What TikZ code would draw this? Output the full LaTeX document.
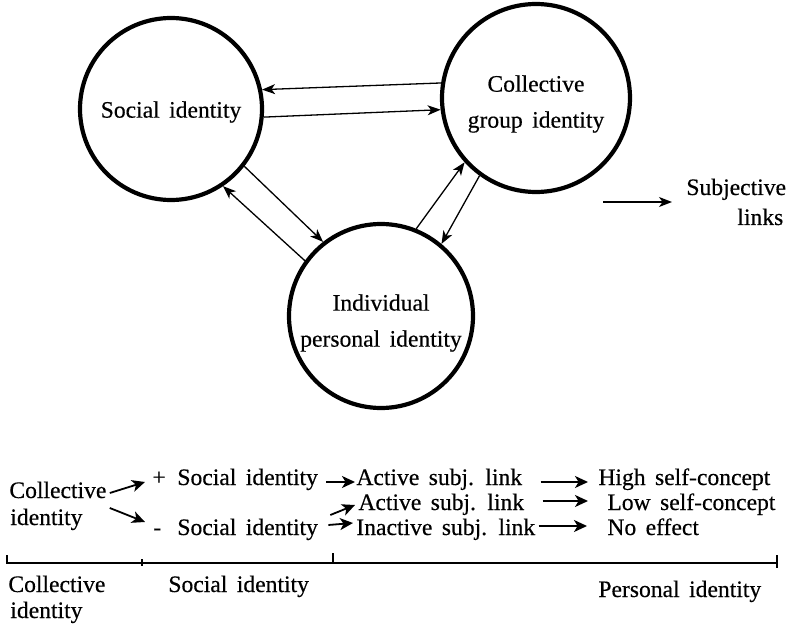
\documentclass[tikz,border=0pt]{standalone}
\usepackage{fontspec}
\setmainfont{Liberation Serif}[WordSpace=1.6, FakeBold=0.4]
\usetikzlibrary{arrows.meta}
\begin{document}
\begin{tikzpicture}[x=0.5pt,y=-0.5pt,
  txt/.style={inner sep=0pt, font=\fontsize{11.8}{18}\selectfont},
  idcircle/.style={circle, draw, line width=2.1pt, inner sep=0pt},
  link/.style={line width=0.65pt, -{Stealth[length=6.5pt,width=5pt,inset=1.8pt]}},
  barrow/.style={line width=0.9pt, -{Stealth[length=6.5pt,width=6pt,inset=1.8pt]}},
  axisline/.style={line width=0.9pt}]
\path[use as bounding box] (0,0) rectangle (788,626);

% circles
\node[idcircle, minimum size=91pt,
  label={[txt, align=center, yshift=-1.5pt]center:{Social identity}}] (soc) at (171,109) {};
\node[idcircle, minimum size=94pt,
  label={[txt, align=center, yshift=-3pt]center:{Collective\\group identity}}] (coll) at (536,98) {};
\node[idcircle, minimum size=92pt,
  label={[txt, align=center, yshift=-3.5pt]center:{Individual\\personal identity}}] (ind) at (381,316) {};

\draw[link] (coll.171) -- (soc.12);
\draw[link] (soc.-5) -- (coll.-173);
\draw[link] (soc.-38) -- (ind.128.6);
\draw[link] (ind.144) -- (soc.-56);
\draw[link] (ind.68) -- (coll.-138);
\draw[link] (coll.-126) -- (ind.50.5);

% legend
\coordinate (lg1) at (603,202);
\coordinate (lg2) at (672,202);
\draw[link] (lg1) -- (lg2);
\node[txt, anchor=base west] (subj) at (686,195) {Subjective};
\node[txt, anchor=base west] (links) at (737,225) {links};

% bottom scheme
\node[txt, anchor=base west] (colla) at (9,498) {Collective};
\node[txt, anchor=base west] (collb) at (10,525) {identity};
\node[txt, anchor=base west] (plus) at (152,485) {+};
\node[txt, anchor=base west] (soc1) at (177,485) {Social identity};
\node[txt, anchor=base west] (minus) at (153,535) {-};
\node[txt, anchor=base west] (soc2) at (177,535) {Social identity};
\node[txt, anchor=base west] (act1) at (356,485) {Active subj. link};
\node[txt, anchor=base west] (act2) at (358,510) {Active subj. link};
\node[txt, anchor=base west] (inact) at (356,535) {Inactive subj. link};
\node[txt, anchor=base west] (high) at (598,485) {High self-concept};
\node[txt, anchor=base west] (low) at (607,510) {Low self-concept};
\node[txt, anchor=base west] (noeff) at (607,535) {No effect};

\draw[barrow] ([shift={(3,-5)}]colla.base east) -- ([shift={(-7,-3)}]plus.base west);
\draw[barrow] ([shift={(3,10)}]colla.base east) -- ([shift={(-8,-13)}]minus.base west);
\draw[barrow] ([shift={(8,-3)}]soc1.base east) -- ([shift={(-1,-3)}]act1.base west);
\draw[barrow] ([shift={(12,-20)}]soc2.base east) -- ([shift={(-3,-5)}]act2.base west);
\draw[barrow] ([shift={(10,-10)}]soc2.base east) -- ([shift={(-3,-12)}]inact.base west);
\draw[barrow] ([shift={(18,-3)}]act1.base east) -- ([shift={(-10,-3)}]high.base west);
\draw[barrow] ([shift={(18,-9)}]act2.base east) -- ([shift={(-19,-9)}]low.base west);
\draw[barrow] ([shift={(3,-9)}]inact.base east) -- ([shift={(-20,-9)}]noeff.base west);

% axis
\coordinate (t0) at (7,563);
\coordinate (t0u) at (7,555);
\coordinate (t1u) at (142,559);
\coordinate (t1d) at (142,566);
\coordinate (t2u) at (333,553);
\coordinate (t2) at (333,563);
\coordinate (t3) at (777,563);
\coordinate (t3u) at (777,555);
\coordinate (t3d) at (777,568);
\draw[axisline] (t0u) -- (t0) -- (t3);
\draw[axisline] (t1u) -- (t1d);
\draw[axisline] (t2u) -- (t2);
\draw[axisline] (t3u) -- (t3d);

\node[txt, anchor=base west] (lcola) at (8,592) {Collective};
\node[txt, anchor=base west] (lcolb) at (10,618) {identity};
\node[txt, anchor=base west] (lsoc) at (168,592) {Social identity};
\node[txt, anchor=base west] (lpers) at (598,597) {Personal identity};
\end{tikzpicture}
\end{document}
